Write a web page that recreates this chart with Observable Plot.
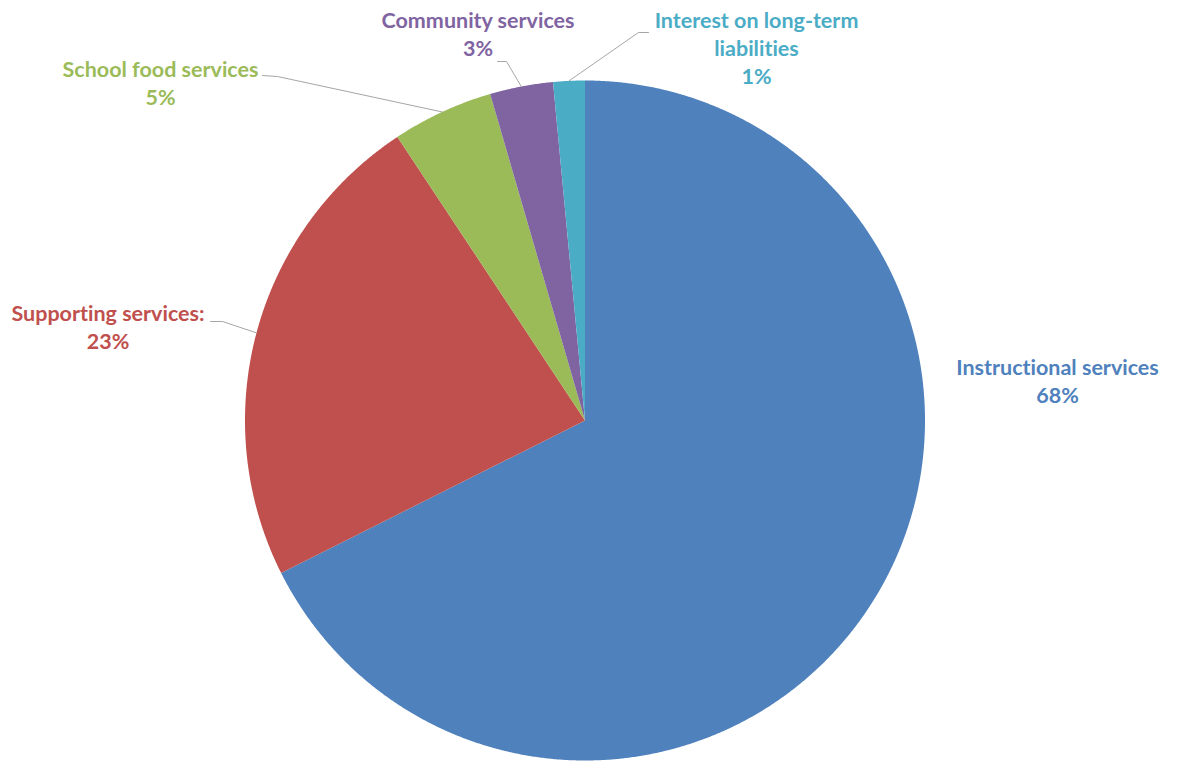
<!DOCTYPE html>
<html><head><meta charset="utf-8">
<script src="https://cdn.jsdelivr.net/npm/d3@7"></script>
<script src="https://cdn.jsdelivr.net/npm/@observablehq/plot@0.6"></script>
<style>body{margin:0;background:#fff;} #chart{width:1178px;height:761px;} svg text{font-variant-ligatures:none;font-feature-settings:"liga" 0;}</style>
</head><body><div id="chart"></div>
<script>
// ---- data ----
const categories = ["Instructional services", "Supporting services:", "School food services", "Community services", "Interest on long-term\nliabilities"];
const shares = [67.6, 23.1, 4.8, 3.0, 1.5];
const shareLabels = ["68%", "23%", "5%", "3%", "1%"];
const colors = ["#4F81BD", "#C0504D", "#9BBB59", "#8064A2", "#4BACC6"];

// ---- layout (pixel frame of the 1178x761 picture) ----
const W = 1178, H = 761, CX = 584.5, CY = 420, R = 340;
const labelAnchors = [[1057, 402], [107.5, 348], [160, 104], [477.5, 55], [756, 83]]; // centre x, last baseline
const leaderStarts = [null, [[210, 321], [222, 321]], [[262, 75], [277, 76]], [[497, 61], [506, 61]], [[648, 32], [638, 32]]];
const px = (p) => ({x: (p[0] - CX) / R, y: (CY - p[1]) / R});

// ---- geometry from data ----
const arcs = d3.pie().sort(null).startAngle(0).endAngle(2 * Math.PI)(shares);
const step = Math.PI / 720;
const slicePts = [];
arcs.forEach((a, i) => {
  slicePts.push({name: categories[i], x: 0, y: 0});
  const n = Math.max(2, Math.ceil((a.endAngle - a.startAngle) / step));
  for (let k = 0; k <= n; k++) {
    const t = a.startAngle + (a.endAngle - a.startAngle) * k / n;
    slicePts.push({name: categories[i], x: Math.sin(t), y: Math.cos(t)});
  }
});
const circlePts = d3.range(0, 721).map(k => ({x: Math.sin(k * step * 2), y: Math.cos(k * step * 2)}));

const labels = categories.map((c, i) => ({name: c, text: c + "\n" + shareLabels[i], ...px(labelAnchors[i])}));
const leaderPts = [];
arcs.forEach((a, i) => {
  if (!leaderStarts[i]) return;
  leaderStarts[i].forEach(p => leaderPts.push({name: categories[i], ...px(p)}));
  const m = (a.startAngle + a.endAngle) / 2;
  leaderPts.push({name: categories[i], x: Math.sin(m), y: Math.cos(m)});
});

const svg = Plot.plot({
  width: W, height: H,
  marginLeft: CX - R, marginRight: W - CX - R, marginTop: CY - R, marginBottom: H - CY - R,
  x: {domain: [-1, 1], axis: null},
  y: {domain: [-1, 1], axis: null},
  color: {domain: categories, range: colors},
  style: {fontFamily: "Lato, 'Open Sans', sans-serif", background: "#fff", overflow: "visible"},
  marks: [
    Plot.line(circlePts, {x: "x", y: "y", fill: "#000", fillOpacity: 0.4, stroke: "none", dx: 1, dy: 2, curve: "linear-closed", ariaLabel: "pie-shadow"}),
    Plot.line(slicePts, {x: "x", y: "y", z: "name", fill: "name", stroke: "none", curve: "linear-closed"}),
    Plot.line(leaderPts, {x: "x", y: "y", z: "name", stroke: "#A6A6A6", strokeWidth: 1}),
    Plot.text(labels, {x: "x", y: "y", text: "text", fill: "name", textAnchor: "middle", lineAnchor: "bottom",
      fontSize: 21.5, fontWeight: "bold", lineHeight: 1.28})
  ]
});

const s = d3.select(svg);
const f = s.insert("defs", ":first-child").append("filter").attr("id", "pieblur")
  .attr("x", "-10%").attr("y", "-10%").attr("width", "120%").attr("height", "120%");
f.append("feGaussianBlur").attr("stdDeviation", 4);
s.select('g[aria-label="pie-shadow"]').attr("filter", "url(#pieblur)");

document.getElementById("chart").appendChild(svg);
</script>
</body></html>
